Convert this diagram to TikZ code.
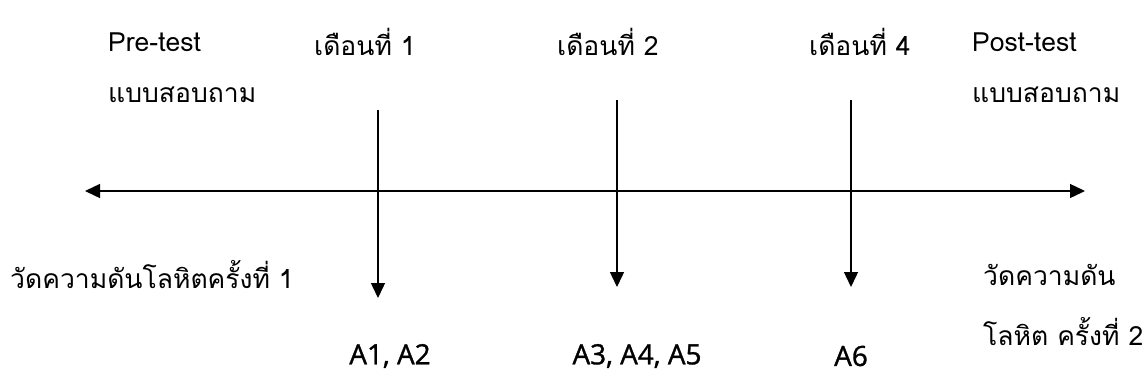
\documentclass[tikz,border=0pt]{standalone}
\usepackage{fontspec}
\usetikzlibrary{arrows.meta}
\newfontfamily\thaifont[Script=Thai]{Loma}
\newfontfamily\alabfont[FakeBold=1.2]{Open Sans}
\begin{document}
\begin{tikzpicture}[x=1bp,y=-1bp,
  lbl/.style={inner sep=0pt,anchor=west,font=\fontsize{26.6}{30}\selectfont\thaifont},
  alab/.style={inner sep=0pt,font=\fontsize{28}{31}\selectfont\alabfont},
  arr/.style={line width=1.4bp,-{Triangle[length=15bp,width=14bp]}},
  darr/.style={line width=1.4bp,{Triangle[length=15bp,width=14bp]}-{Triangle[length=15bp,width=14bp]}}]
\useasboundingbox (0,0) rectangle (1144,382);
% top labels
\node[lbl] (pre) at (108,42) {Pre-test};
\node[lbl] (preq) at (108,95) {แบบสอบถาม};
\node[lbl] (m1) at (314,42) {เดือนที่ 1};
\node[lbl] (m2) at (557,42) {เดือนที่ 2};
\node[lbl] (m4) at (809,42) {เดือนที่ 4};
\node[lbl] (post) at (972,42) {Post-test};
\node[lbl] (postq) at (972,95) {แบบสอบถาม};
% timeline
\coordinate (L) at (85,191);
\coordinate (R) at (1085,191);
\draw[darr] (L) -- (R);
% vertical arrows
\coordinate (v1s) at (378,110); \coordinate (v1e) at (378,298);
\coordinate (v2s) at (617,100); \coordinate (v2e) at (617,287);
\coordinate (v3s) at (851,100); \coordinate (v3e) at (851,287);
\draw[arr] (v1s) -- (v1e);
\draw[arr] (v2s) -- (v2e);
\draw[arr] (v3s) -- (v3e);
% bottom labels
\node[lbl] (bp1) at (10,275) {วัดความดันโลหิตครั้งที่ 1};
\node[lbl] (bp2a) at (983,275) {วัดความดัน};
\node[lbl] (bp2b) at (983,332) {โลหิต ครั้งที่ 2};
\node[alab] (a12) at (390,356) {A1, A2};
\node[alab] (a345) at (637,356) {A3, A4, A5};
\node[alab] (a6) at (851,356) {A6};
\end{tikzpicture}
\end{document}
